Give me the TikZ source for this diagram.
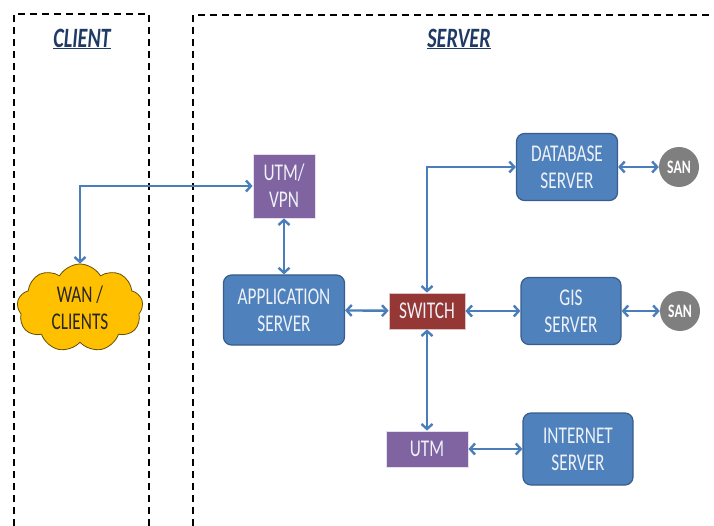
\documentclass[tikz,border=0pt]{standalone}
\usepackage{fontspec}
\usetikzlibrary{arrows.meta,shapes.symbols}
\newfontfamily\boxfont[FakeStretch=0.72]{Carlito}
\definecolor{srvblue}{HTML}{4F81BD}
\definecolor{srvedge}{HTML}{385D8A}
\definecolor{utmpurple}{HTML}{8064A2}
\definecolor{swred}{HTML}{953735}
\definecolor{sangray}{HTML}{7F7F7F}
\definecolor{wanyellow}{HTML}{FFC000}
\definecolor{titleblue}{HTML}{1F3A64}
\definecolor{linkblue}{HTML}{4A7EBB}
\definecolor{boxtext}{HTML}{EEF2F8}
\tikzset{
  zone/.style={draw=black, line width=1.8pt, dash pattern=on 7pt off 5pt},
  zonetitle/.style={text=titleblue, font=\boxfont\bfseries\itshape\fontsize{28}{30}\selectfont},
  srvbox/.style={draw=srvedge, line width=1.2pt, fill=srvblue, rounded corners=8pt,
    text=boxtext, align=center, inner sep=0pt, font=\boxfont\fontsize{24}{27}\selectfont},
  utmbox/.style={draw=white!80!utmpurple, line width=0.8pt, fill=utmpurple,
    text=boxtext, align=center, inner sep=0pt, font=\boxfont\fontsize{24}{27}\selectfont},
  swbox/.style={draw=white!70!swred, line width=0.8pt, fill=swred,
    text=boxtext, align=center, inner sep=0pt, font=\boxfont\fontsize{24}{27}\selectfont},
  san/.style={circle, fill=sangray, minimum size=40pt, inner sep=0pt, text=white,
    font=\boxfont\bfseries\fontsize{19}{20}\selectfont},
  link/.style={draw=linkblue, line width=2.4pt, {Straight Barb[length=5pt,width=11pt]}-{Straight Barb[length=5pt,width=11pt]}}
}
\begin{document}
\begin{tikzpicture}[x=1pt, y=-1pt]
  \useasboundingbox (0,0) rectangle (714,526);

  % client and server zones
  \draw [zone] (14,526) -- (14,14) -- (149,14) -- (149,526);
  \draw [zone] (193,526) -- (193,15) -- (714,15);
  \node [zonetitle] (ct) at (82,39) {\underline{CLIENT}};
  \node [zonetitle] (st) at (459,39) {\underline{SERVER}};

  \node [cloud, cloud puffs=9, cloud puff arc=120, aspect=1.3, draw=black!60!wanyellow,
    line width=0.8pt, fill=wanyellow, minimum width=126pt, minimum height=88pt,
    align=center, inner sep=0pt, text=black!85, font=\boxfont\fontsize{24}{27}\selectfont]
    (wan) at (80,308) {WAN /\\CLIENTS};

  \node [utmbox, minimum width=62pt, minimum height=64pt] (vpn) at (284,186) {UTM/\\VPN};
  \node [srvbox, minimum width=121pt, minimum height=70pt] (app) at (284,310) {APPLICATION\\SERVER};
  \node [swbox, minimum width=76pt, minimum height=36pt] (sw) at (427,311) {SWITCH};
  \node [srvbox, minimum width=101pt, minimum height=67pt] (db) at (567,167) {DATABASE\\SERVER};
  \node [srvbox, minimum width=100pt, minimum height=67pt] (gis) at (571,311) {GIS\\SERVER};
  \node [san] (san1) at (679,167) {SAN};
  \node [san] (san2) at (680,311) {SAN};
  \node [utmbox, minimum width=82pt, minimum height=36pt] (utm) at (427,449) {UTM};
  \node [srvbox, minimum width=110pt, minimum height=72pt] (inet) at (578,449) {INTERNET\\SERVER};

  \draw [link] (vpn) -| (wan);
  \draw [link] (vpn) -- (app);
  \draw [link] (app) -- (sw);
  \draw [link] (sw) |- (db);
  \draw [link] (sw) -- (gis);
  \draw [link] (db) -- (san1);
  \draw [link] (gis) -- (san2);
  \draw [link] (sw) -- (utm);
  \draw [link] (utm) -- (inet);

\end{tikzpicture}
\end{document}
